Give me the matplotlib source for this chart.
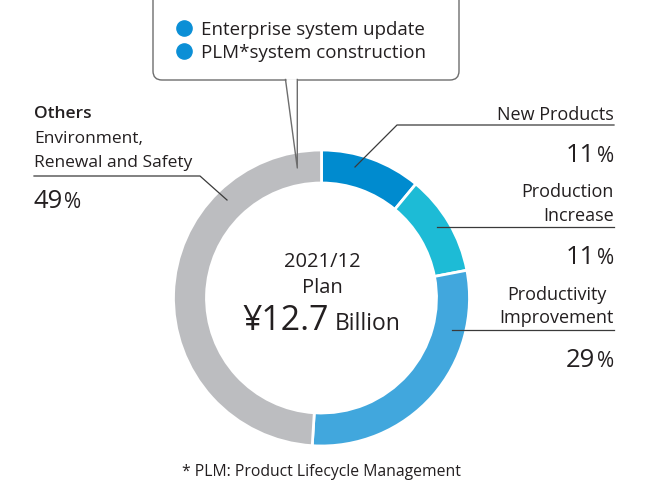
import matplotlib
matplotlib.use('Agg')
import matplotlib.pyplot as plt
from matplotlib.patches import FancyBboxPatch

plt.rcParams['font.family'] = ['Open Sans', 'DejaVu Sans']

categories = ['New Products', 'Production Increase', 'Productivity Improvement', 'Others']
shares = [11, 11, 29, 49]
colors = ['#008bcf', '#1dbbd6', '#41a7dd', '#bcbdc0']
bullets = ['Enterprise system update', 'PLM*system construction']

TXT = '#231f20'
LINE = '#3a3a3a'
W, H = 649, 481


def Y(y):
    # pixel row (from top) -> data y
    return H - y


fig = plt.figure(figsize=(W / 100, H / 100), dpi=100)
ax = fig.add_axes([0, 0, 1, 1])

ax.pie(shares, colors=colors, startangle=90, counterclock=False,
       radius=148, center=(321.5, Y(299)),
       wedgeprops=dict(width=33, edgecolor='white', linewidth=2))
ax.set_xlim(0, W)
ax.set_ylim(0, H)
ax.set_aspect('auto')
ax.axis('off')

# callout box
box = FancyBboxPatch((153, Y(81)), 306, 120, boxstyle='round,pad=0,rounding_size=9',
                     fc='white', ec='#6d6d6d', lw=1.0, clip_on=True)
ax.add_patch(box)
ax.plot([285.5, 297.3], [Y(81), Y(81)], color='white', lw=2, solid_capstyle='butt')
ax.plot([285.5, 297.3, 297.3], [Y(80.5), Y(169), Y(80.5)], color='#6d6d6d', lw=1.0)
for i, b in enumerate(bullets):
    yy = Y(29 + 23 * i)
    ax.scatter([184], [yy], s=120, color='#0b8fd6', zorder=5)
    ax.text(201, Y(35 + 23 * i), b, fontsize=13.5, color=TXT, va='baseline', ha='left')

# leader lines
ax.plot([355, 397, 614], [Y(168), Y(126), Y(126)], color=LINE, lw=0.9)
ax.plot([437, 614], [Y(228), Y(228)], color=LINE, lw=0.9)
ax.plot([452, 614], [Y(331), Y(331)], color=LINE, lw=0.9)
ax.plot([227, 200, 34], [Y(201), Y(177), Y(177)], color=LINE, lw=0.9)


def pct(x, ybase, val, ha='right'):
    if ha == 'right':
        ax.text(x, Y(ybase), '%', fontsize=15, color=TXT, ha='right', va='baseline')
        ax.text(x - 19, Y(ybase), str(val), fontsize=18.5, color=TXT, ha='right', va='baseline')
    else:
        ax.text(x, Y(ybase), str(val), fontsize=18.5, color=TXT, ha='left', va='baseline')
        ax.text(x + 30, Y(ybase), '%', fontsize=15, color=TXT, ha='left', va='baseline')


lbl = dict(fontsize=13, color=TXT, va='baseline')
lbl_l = dict(fontsize=12.5, color=TXT, va='baseline')
ax.text(614, Y(120), 'New Products', ha='right', **lbl)
pct(614, 162, shares[0])
ax.text(614, Y(197), 'Production', ha='right', **lbl)
ax.text(614, Y(221), 'Increase', ha='right', **lbl)
pct(614, 264, shares[1])
ax.text(607, Y(300), 'Productivity', ha='right', **lbl)
ax.text(614, Y(323), 'Improvement', ha='right', **lbl)
pct(614, 367, shares[2])

ax.text(34, Y(118), 'Others', ha='left', fontweight='semibold', **lbl_l)
ax.text(34, Y(143), 'Environment,', ha='left', **lbl_l)
ax.text(34, Y(167), 'Renewal and Safety', ha='left', **lbl_l)
pct(34, 208, shares[3], ha='left')

# centre text
ax.text(322, Y(267), '2021/12', ha='center', fontsize=14.5, color=TXT, va='baseline')
ax.text(322, Y(293), 'Plan', ha='center', fontsize=14.5, color=TXT, va='baseline')
ax.text(329, Y(330), '¥12.7', ha='right', fontsize=24.5, color=TXT, va='baseline')
ax.text(335, Y(330), 'Billion', ha='left', fontsize=16.5, color=TXT, va='baseline')

ax.text(321, Y(476), '* PLM: Product Lifecycle Management', ha='center',
        fontsize=11.3, color=TXT, va='baseline')

fig.savefig('out.png', dpi=100)
